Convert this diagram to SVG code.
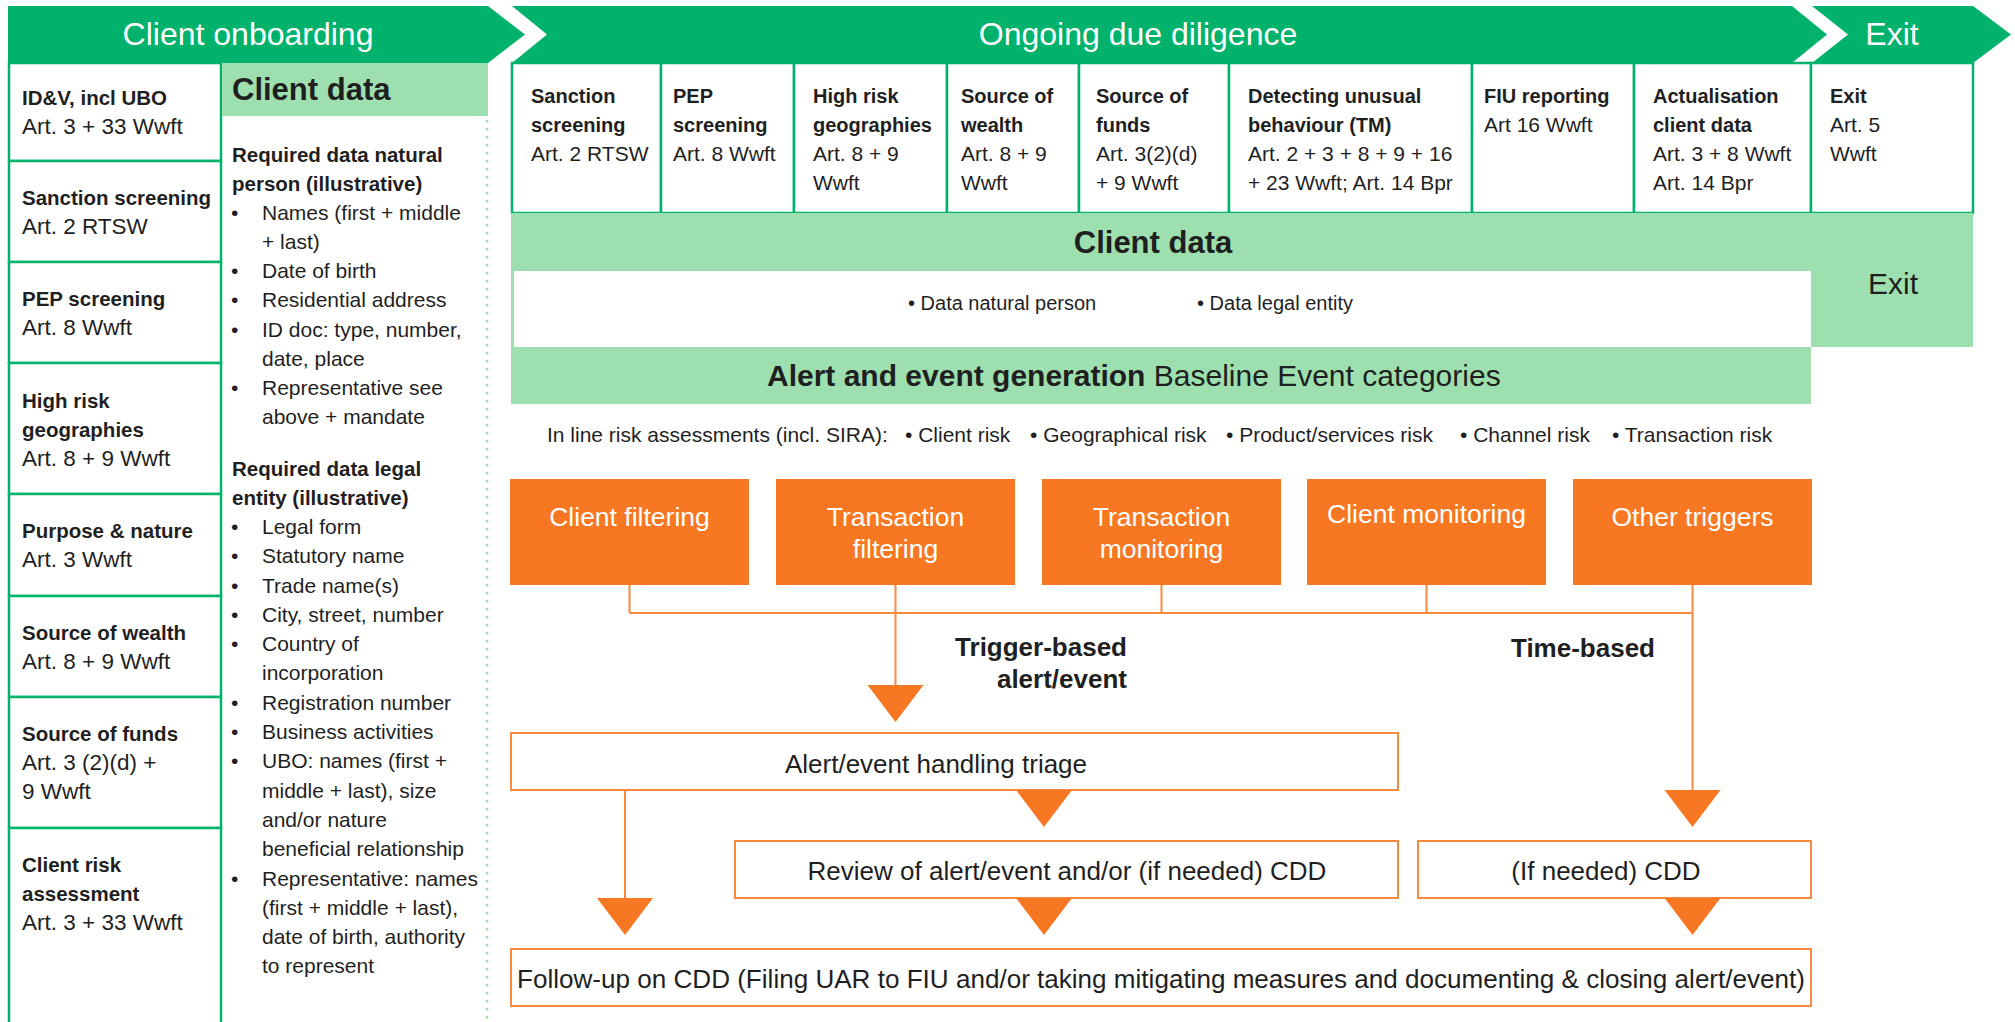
<svg xmlns="http://www.w3.org/2000/svg" width="2015" height="1022" viewBox="0 0 2015 1022">
<defs>
<style>
text { font-family: "Liberation Sans", Arial, sans-serif; fill: #1f1f1f; }
.banner { fill: #00b26b; }
.bannerText { fill: #ffffff; font-size: 32px; text-anchor: middle; }
.cell { fill: #ffffff; stroke: #00b26b; stroke-width: 2.5; }
.lt { fill: #9ddfae; }
.lb { font-size: 20.5px; font-weight: bold; }
.lr { font-size: 22.5px; }
.br { font-size: 21px; }
.hb { font-size: 20.5px; font-weight: bold; }
.cb { font-size: 20px; font-weight: bold; }
.cr { font-size: 21px; }
.big { font-size: 30px; }
.hd { font-size: 31px; font-weight: bold; }
.bold { font-weight: bold; }
.orange { fill: #f87722; }
.oText { fill: #ffffff; font-size: 26.5px; text-anchor: middle; }
.obox { fill: #ffffff; stroke: #f8893f; stroke-width: 2; }
.conn { stroke: #f8893f; stroke-width: 2; fill: none; }
.boxText { font-size: 26px; text-anchor: middle; }
.lbl { font-size: 26px; font-weight: bold; text-anchor: end; }
.risk { font-size: 21px; }
.dots { stroke: #9ddfae; stroke-width: 2.5; stroke-dasharray: 2.5 5.5; }
</style>
<polygon id="head" points="-28,0 28,0 0,37" fill="#f87722"/>
</defs>

<rect width="2015" height="1022" fill="#ffffff"/>

<!-- Phase banners -->
<g id="banner-onboarding">
  <polygon class="banner" points="8,6 488,6 525,34.5 488,63 8,63"/>
  <text class="bannerText" x="248" y="45">Client onboarding</text>
</g>
<g id="banner-ongoing">
  <polygon class="banner" points="512,6 1792,6 1827,34.5 1792,63 512,63 547,34.5"/>
  <text class="bannerText" x="1138" y="45">Ongoing due diligence</text>
</g>
<g id="banner-exit">
  <polygon class="banner" points="1812,6 1973,6 2011,34.5 1973,63 1812,63 1848,34.5"/>
  <text class="bannerText" x="1892" y="45">Exit</text>
</g>

<!-- Onboarding steps -->
<g id="ob-idv">
  <rect class="cell" x="9" y="63" width="212" height="98"/>
  <text class="lb" x="22" y="105">ID&amp;V, incl UBO</text>
  <text class="lr" x="22" y="134">Art. 3 + 33 Wwft</text>
</g>
<g id="ob-sanction">
  <rect class="cell" x="9" y="161" width="212" height="101"/>
  <text class="lb" x="22" y="205">Sanction screening</text>
  <text class="lr" x="22" y="234">Art. 2 RTSW</text>
</g>
<g id="ob-pep">
  <rect class="cell" x="9" y="262" width="212" height="101"/>
  <text class="lb" x="22" y="306">PEP screening</text>
  <text class="lr" x="22" y="335">Art. 8 Wwft</text>
</g>
<g id="ob-highrisk">
  <rect class="cell" x="9" y="363" width="212" height="131"/>
  <text class="lb" x="22" y="408">High risk</text>
  <text class="lb" x="22" y="437">geographies</text>
  <text class="lr" x="22" y="466">Art. 8 + 9 Wwft</text>
</g>
<g id="ob-purpose">
  <rect class="cell" x="9" y="494" width="212" height="102"/>
  <text class="lb" x="22" y="538">Purpose &amp; nature</text>
  <text class="lr" x="22" y="567">Art. 3 Wwft</text>
</g>
<g id="ob-wealth">
  <rect class="cell" x="9" y="596" width="212" height="101"/>
  <text class="lb" x="22" y="640">Source of wealth</text>
  <text class="lr" x="22" y="669">Art. 8 + 9 Wwft</text>
</g>
<g id="ob-funds">
  <rect class="cell" x="9" y="697" width="212" height="131"/>
  <text class="lb" x="22" y="741">Source of funds</text>
  <text class="lr" x="22" y="770">Art. 3 (2)(d) +</text>
  <text class="lr" x="22" y="799">9 Wwft</text>
</g>
<g id="ob-risk">
  <rect class="cell" x="9" y="828" width="212" height="204"/>
  <text class="lb" x="22" y="872">Client risk</text>
  <text class="lb" x="22" y="901">assessment</text>
  <text class="lr" x="22" y="930">Art. 3 + 33 Wwft</text>
</g>

<!-- Onboarding client data -->
<g id="ob-client-data">
  <rect class="lt" x="222" y="63" width="266" height="53"/>
  <text class="hd" x="232" y="100">Client data</text>
  <line class="dots" x1="487" y1="120" x2="487" y2="1022"/>
  <text class="hb" x="232" y="162">Required data natural</text>
  <text class="hb" x="232" y="191">person (illustrative)</text>
  <g class="br">
    <text x="231" y="220">•</text><text x="262" y="220">Names (first + middle</text>
    <text x="262" y="249">+ last)</text>
    <text x="231" y="278">•</text><text x="262" y="278">Date of birth</text>
    <text x="231" y="307">•</text><text x="262" y="307">Residential address</text>
    <text x="231" y="337">•</text><text x="262" y="337">ID doc: type, number,</text>
    <text x="262" y="366">date, place</text>
    <text x="231" y="395">•</text><text x="262" y="395">Representative see</text>
    <text x="262" y="424">above + mandate</text>
  </g>
  <text class="hb" x="232" y="476">Required data legal</text>
  <text class="hb" x="232" y="505">entity (illustrative)</text>
  <g class="br">
    <text x="231" y="534">•</text><text x="262" y="534">Legal form</text>
    <text x="231" y="563">•</text><text x="262" y="563">Statutory name</text>
    <text x="231" y="593">•</text><text x="262" y="593">Trade name(s)</text>
    <text x="231" y="622">•</text><text x="262" y="622">City, street, number</text>
    <text x="231" y="651">•</text><text x="262" y="651">Country of</text>
    <text x="262" y="680">incorporation</text>
    <text x="231" y="710">•</text><text x="262" y="710">Registration number</text>
    <text x="231" y="739">•</text><text x="262" y="739">Business activities</text>
    <text x="231" y="768">•</text><text x="262" y="768">UBO: names (first +</text>
    <text x="262" y="798">middle + last), size</text>
    <text x="262" y="827">and/or nature</text>
    <text x="262" y="856">beneficial relationship</text>
    <text x="231" y="886">•</text><text x="262" y="886">Representative: names</text>
    <text x="262" y="915">(first + middle + last),</text>
    <text x="262" y="944">date of birth, authority</text>
    <text x="262" y="973">to represent</text>
  </g>
</g>

<!-- Ongoing due diligence steps -->
<g id="odd-sanction">
  <rect class="cell" x="512" y="63" width="149" height="150"/>
  <text class="cb" x="531" y="103">Sanction</text>
  <text class="cb" x="531" y="132">screening</text>
  <text class="cr" x="531" y="161">Art. 2 RTSW</text>
</g>
<g id="odd-pep">
  <rect class="cell" x="661" y="63" width="133" height="150"/>
  <text class="cb" x="673" y="103">PEP</text>
  <text class="cb" x="673" y="132">screening</text>
  <text class="cr" x="673" y="161">Art. 8 Wwft</text>
</g>
<g id="odd-highrisk">
  <rect class="cell" x="794" y="63" width="153" height="150"/>
  <text class="cb" x="813" y="103">High risk</text>
  <text class="cb" x="813" y="132">geographies</text>
  <text class="cr" x="813" y="161">Art. 8 + 9</text>
  <text class="cr" x="813" y="190">Wwft</text>
</g>
<g id="odd-wealth">
  <rect class="cell" x="947" y="63" width="132" height="150"/>
  <text class="cb" x="961" y="103">Source of</text>
  <text class="cb" x="961" y="132">wealth</text>
  <text class="cr" x="961" y="161">Art. 8 + 9</text>
  <text class="cr" x="961" y="190">Wwft</text>
</g>
<g id="odd-funds">
  <rect class="cell" x="1079" y="63" width="150" height="150"/>
  <text class="cb" x="1096" y="103">Source of</text>
  <text class="cb" x="1096" y="132">funds</text>
  <text class="cr" x="1096" y="161">Art. 3(2)(d)</text>
  <text class="cr" x="1096" y="190">+ 9 Wwft</text>
</g>
<g id="odd-tm">
  <rect class="cell" x="1229" y="63" width="243" height="150"/>
  <text class="cb" x="1248" y="103">Detecting unusual</text>
  <text class="cb" x="1248" y="132">behaviour (TM)</text>
  <text class="cr" x="1248" y="161">Art. 2 + 3 + 8 + 9 + 16</text>
  <text class="cr" x="1248" y="190">+ 23 Wwft; Art. 14 Bpr</text>
</g>
<g id="odd-fiu">
  <rect class="cell" x="1472" y="63" width="162" height="150"/>
  <text class="cb" x="1484" y="103">FIU reporting</text>
  <text class="cr" x="1484" y="132">Art 16 Wwft</text>
</g>
<g id="odd-actualisation">
  <rect class="cell" x="1634" y="63" width="177" height="150"/>
  <text class="cb" x="1653" y="103">Actualisation</text>
  <text class="cb" x="1653" y="132">client data</text>
  <text class="cr" x="1653" y="161">Art. 3 + 8 Wwft</text>
  <text class="cr" x="1653" y="190">Art. 14 Bpr</text>
</g>
<g id="exit-step">
  <rect class="cell" x="1811" y="63" width="162" height="150"/>
  <text class="cb" x="1830" y="103">Exit</text>
  <text class="cr" x="1830" y="132">Art. 5</text>
  <text class="cr" x="1830" y="161">Wwft</text>
</g>

<!-- Shared client data and alert generation bands -->
<g id="client-data-band">
  <rect class="lt" x="511" y="213" width="1462" height="134"/>
  <rect x="514" y="271" width="1297" height="76" fill="#ffffff"/>
  <text class="hd" x="1153" y="253" text-anchor="middle">Client data</text>
  <text x="908" y="310" font-size="20">• Data natural person</text>
  <text x="1197" y="310" font-size="20">• Data legal entity</text>
</g>
<g id="exit-band">
  <text class="big" x="1893" y="294" text-anchor="middle">Exit</text>
</g>
<g id="alert-band">
  <rect class="lt" x="511" y="347" width="1300" height="57"/>
  <text class="big" x="767" y="386"><tspan class="bold">Alert and event generation</tspan> Baseline Event categories</text>
</g>
<g id="risk-line" class="risk">
  <text x="547" y="442">In line risk assessments (incl. SIRA):</text>
  <text x="905" y="442">• Client risk</text>
  <text x="1030" y="442">• Geographical risk</text>
  <text x="1226" y="442">• Product/services risk</text>
  <text x="1460" y="442">• Channel risk</text>
  <text x="1612" y="442">• Transaction risk</text>
</g>

<!-- Alert sources -->
<g id="src-client-filtering">
  <rect class="orange" x="510" y="479" width="239" height="106"/>
  <text class="oText" x="629.5" y="526">Client filtering</text>
</g>
<g id="src-transaction-filtering">
  <rect class="orange" x="776" y="479" width="239" height="106"/>
  <text class="oText" x="895.5" y="526">Transaction</text>
  <text class="oText" x="895.5" y="558">filtering</text>
</g>
<g id="src-transaction-monitoring">
  <rect class="orange" x="1042" y="479" width="239" height="106"/>
  <text class="oText" x="1161.5" y="526">Transaction</text>
  <text class="oText" x="1161.5" y="558">monitoring</text>
</g>
<g id="src-client-monitoring">
  <rect class="orange" x="1307" y="479" width="239" height="106"/>
  <text class="oText" x="1426.5" y="523">Client monitoring</text>
</g>
<g id="src-other-triggers">
  <rect class="orange" x="1573" y="479" width="239" height="106"/>
  <text class="oText" x="1692.5" y="526">Other triggers</text>
</g>

<!-- Handling steps -->
<g id="step-triage">
  <rect class="obox" x="511" y="733" width="887" height="57"/>
  <text class="boxText" x="936" y="773">Alert/event handling triage</text>
</g>
<g id="step-review">
  <rect class="obox" x="735" y="841" width="663" height="57"/>
  <text class="boxText" x="1067" y="880">Review of alert/event and/or (if needed) CDD</text>
</g>
<g id="step-cdd">
  <rect class="obox" x="1418" y="841" width="393" height="57"/>
  <text class="boxText" x="1606" y="880">(If needed) CDD</text>
</g>
<g id="step-followup">
  <rect class="obox" x="511" y="949" width="1300" height="57"/>
  <text font-size="26" x="517" y="988" textLength="1288" lengthAdjust="spacingAndGlyphs">Follow-up on CDD (Filing UAR to FIU and/or taking mitigating measures and documenting &amp; closing alert/event)</text>
</g>

<!-- Connectors -->
<g id="connectors">
  <path class="conn" d="M629.5,585 V613 M895.5,585 V685 M1161.5,585 V613 M1426.5,585 V613 M1692.5,585 V790 M629.5,613 H1692.5 M625,790 V898"/>
  <use href="#head" x="895.5" y="685"/>
  <use href="#head" x="1044" y="790"/>
  <use href="#head" x="625" y="898"/>
  <use href="#head" x="1044" y="898"/>
  <use href="#head" x="1692.5" y="790"/>
  <use href="#head" x="1692.5" y="898"/>
  <text class="lbl" x="1127" y="656">Trigger-based</text>
  <text class="lbl" x="1127" y="688">alert/event</text>
  <text class="lbl" x="1655" y="657">Time-based</text>
</g>
</svg>
